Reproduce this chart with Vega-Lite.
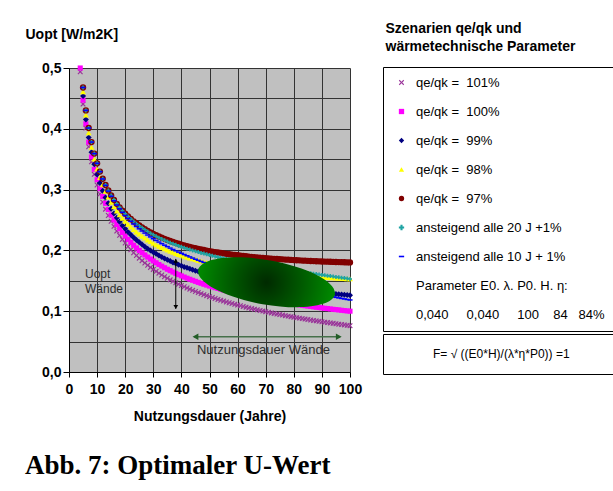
{
  "$schema": "https://vega.github.io/schema/vega-lite/v6.json",
  "width": 281,
  "height": 304,
  "autosize": {"type": "none"},
  "padding": {"left": 69, "top": 68, "right": 263, "bottom": 119},
  "background": "white",
  "title": {"text": "Abb. 7: Optimaler U-Wert", "orient": "bottom", "anchor": "start", "frame": "bounds", "font": "Liberation Serif", "fontSize": 27, "fontWeight": "bold", "color": "black", "offset": 30},
  "config": {
    "view": {"fill": "#c0c0c0", "stroke": null},
    "axis": {"labelFont": "Liberation Sans", "titleFont": "Liberation Sans"},
    "legend": {"labelFont": "Liberation Sans", "titleFont": "Liberation Sans"},
    "text": {"font": "Liberation Sans"}
  },
  "data": {"values": [
    {"n":4,"a":0.4938,"b":0.5,"c":null,"d":null,"e":null,"f":null,"g":null},
    {"n":5,"a":0.4406,"b":0.4472,"c":0.4540,"d":0.4609,"e":0.4679,"f":0.4679,"g":0.4679},
    {"n":6,"a":0.4012,"b":0.4082,"c":0.4155,"d":0.4228,"e":0.4303,"f":0.4303,"g":0.4303},
    {"n":7,"a":0.3705,"b":0.3780,"c":0.3856,"d":0.3934,"e":0.4013,"f":0.4013,"g":0.4013},
    {"n":8,"a":0.3457,"b":0.3536,"c":0.3616,"d":0.3698,"e":0.3782,"f":0.3782,"g":0.3782},
    {"n":9,"a":0.3251,"b":0.3333,"c":0.3418,"d":0.3504,"e":0.3592,"f":0.3592,"g":0.3592},
    {"n":10,"a":0.3076,"b":0.3162,"c":0.3250,"d":0.3340,"e":0.3432,"f":0.3432,"g":0.3432},
    {"n":11,"a":0.2926,"b":0.3015,"c":0.3107,"d":0.3200,"e":0.3296,"f":0.3296,"g":0.3295},
    {"n":12,"a":0.2794,"b":0.2887,"c":0.2982,"d":0.3079,"e":0.3178,"f":0.3178,"g":0.3175},
    {"n":13,"a":0.2678,"b":0.2774,"c":0.2872,"d":0.2972,"e":0.3076,"f":0.3076,"g":0.3069},
    {"n":14,"a":0.2574,"b":0.2673,"c":0.2774,"d":0.2878,"e":0.2985,"f":0.2985,"g":0.2975},
    {"n":15,"a":0.2480,"b":0.2582,"c":0.2687,"d":0.2794,"e":0.2904,"f":0.2904,"g":0.2891},
    {"n":16,"a":0.2395,"b":0.2500,"c":0.2608,"d":0.2718,"e":0.2832,"f":0.2832,"g":0.2816},
    {"n":17,"a":0.2318,"b":0.2425,"c":0.2536,"d":0.2650,"e":0.2766,"f":0.2766,"g":0.2747},
    {"n":18,"a":0.2247,"b":0.2357,"c":0.2471,"d":0.2587,"e":0.2707,"f":0.2707,"g":0.2684},
    {"n":19,"a":0.2181,"b":0.2294,"c":0.2411,"d":0.2530,"e":0.2653,"f":0.2653,"g":0.2626},
    {"n":20,"a":0.2121,"b":0.2236,"c":0.2355,"d":0.2478,"e":0.2604,"f":0.2604,"g":0.2573},
    {"n":21,"a":0.2064,"b":0.2182,"c":0.2304,"d":0.2430,"e":0.2558,"f":0.2558,"g":0.2524},
    {"n":22,"a":0.2011,"b":0.2132,"c":0.2257,"d":0.2385,"e":0.2517,"f":0.2515,"g":0.2478},
    {"n":23,"a":0.1962,"b":0.2085,"c":0.2212,"d":0.2343,"e":0.2478,"f":0.2476,"g":0.2435},
    {"n":24,"a":0.1916,"b":0.2041,"c":0.2171,"d":0.2305,"e":0.2442,"f":0.2438,"g":0.2394},
    {"n":25,"a":0.1872,"b":0.2000,"c":0.2132,"d":0.2269,"e":0.2409,"f":0.2403,"g":0.2355},
    {"n":26,"a":0.1831,"b":0.1961,"c":0.2096,"d":0.2235,"e":0.2378,"f":0.2371,"g":0.2319},
    {"n":27,"a":0.1792,"b":0.1925,"c":0.2062,"d":0.2203,"e":0.2349,"f":0.2340,"g":0.2285},
    {"n":28,"a":0.1755,"b":0.1890,"c":0.2029,"d":0.2173,"e":0.2322,"f":0.2311,"g":0.2253},
    {"n":29,"a":0.1720,"b":0.1857,"c":0.1999,"d":0.2145,"e":0.2296,"f":0.2283,"g":0.2222},
    {"n":30,"a":0.1687,"b":0.1826,"c":0.1970,"d":0.2119,"e":0.2272,"f":0.2257,"g":0.2192},
    {"n":31,"a":0.1655,"b":0.1796,"c":0.1943,"d":0.2094,"e":0.2250,"f":0.2233,"g":0.2164},
    {"n":32,"a":0.1625,"b":0.1768,"c":0.1916,"d":0.2070,"e":0.2229,"f":0.2209,"g":0.2137},
    {"n":33,"a":0.1596,"b":0.1741,"c":0.1892,"d":0.2048,"e":0.2209,"f":0.2187,"g":0.2111},
    {"n":34,"a":0.1568,"b":0.1715,"c":0.1868,"d":0.2027,"e":0.2190,"f":0.2166,"g":0.2086},
    {"n":35,"a":0.1542,"b":0.1690,"c":0.1846,"d":0.2006,"e":0.2172,"f":0.2146,"g":0.2062},
    {"n":36,"a":0.1516,"b":0.1667,"c":0.1824,"d":0.1987,"e":0.2155,"f":0.2127,"g":0.2038},
    {"n":37,"a":0.1492,"b":0.1644,"c":0.1803,"d":0.1969,"e":0.2139,"f":0.2108,"g":0.2015},
    {"n":38,"a":0.1468,"b":0.1622,"c":0.1784,"d":0.1951,"e":0.2124,"f":0.2091,"g":0.1994},
    {"n":39,"a":0.1445,"b":0.1601,"c":0.1765,"d":0.1935,"e":0.2109,"f":0.2074,"g":0.1972},
    {"n":40,"a":0.1423,"b":0.1581,"c":0.1747,"d":0.1919,"e":0.2096,"f":0.2058,"g":0.1952},
    {"n":41,"a":0.1402,"b":0.1562,"c":0.1729,"d":0.1904,"e":0.2082,"f":0.2043,"g":0.1932},
    {"n":42,"a":0.1381,"b":0.1543,"c":0.1713,"d":0.1889,"e":0.2070,"f":0.2028,"g":0.1912},
    {"n":43,"a":0.1362,"b":0.1525,"c":0.1697,"d":0.1875,"e":0.2058,"f":0.2013,"g":0.1893},
    {"n":44,"a":0.1343,"b":0.1508,"c":0.1681,"d":0.1862,"e":0.2047,"f":0.1999,"g":0.1874},
    {"n":45,"a":0.1324,"b":0.1491,"c":0.1666,"d":0.1849,"e":0.2036,"f":0.1985,"g":0.1855},
    {"n":46,"a":0.1306,"b":0.1474,"c":0.1652,"d":0.1836,"e":0.2026,"f":0.1972,"g":0.1837},
    {"n":47,"a":0.1289,"b":0.1459,"c":0.1638,"d":0.1825,"e":0.2016,"f":0.1959,"g":0.1819},
    {"n":48,"a":0.1272,"b":0.1443,"c":0.1625,"d":0.1813,"e":0.2006,"f":0.1947,"g":0.1801},
    {"n":49,"a":0.1255,"b":0.1429,"c":0.1612,"d":0.1802,"e":0.1997,"f":0.1935,"g":0.1784},
    {"n":50,"a":0.1239,"b":0.1414,"c":0.1599,"d":0.1792,"e":0.1989,"f":0.1923,"g":0.1767},
    {"n":51,"a":0.1224,"b":0.1400,"c":0.1587,"d":0.1781,"e":0.1981,"f":0.1911,"g":0.1751},
    {"n":52,"a":0.1209,"b":0.1387,"c":0.1575,"d":0.1772,"e":0.1973,"f":0.1900,"g":0.1735},
    {"n":53,"a":0.1194,"b":0.1374,"c":0.1564,"d":0.1762,"e":0.1965,"f":0.1889,"g":0.1719},
    {"n":54,"a":0.1180,"b":0.1361,"c":0.1553,"d":0.1753,"e":0.1958,"f":0.1879,"g":0.1703},
    {"n":55,"a":0.1166,"b":0.1348,"c":0.1542,"d":0.1744,"e":0.1951,"f":0.1869,"g":0.1688},
    {"n":56,"a":0.1152,"b":0.1336,"c":0.1532,"d":0.1736,"e":0.1944,"f":0.1859,"g":0.1672},
    {"n":57,"a":0.1139,"b":0.1325,"c":0.1522,"d":0.1728,"e":0.1938,"f":0.1849,"g":0.1658},
    {"n":58,"a":0.1126,"b":0.1313,"c":0.1512,"d":0.1720,"e":0.1931,"f":0.1839,"g":0.1643},
    {"n":59,"a":0.1113,"b":0.1302,"c":0.1503,"d":0.1712,"e":0.1925,"f":0.1830,"g":0.1629},
    {"n":60,"a":0.1101,"b":0.1291,"c":0.1494,"d":0.1705,"e":0.1920,"f":0.1821,"g":0.1614},
    {"n":61,"a":0.1089,"b":0.1280,"c":0.1485,"d":0.1697,"e":0.1914,"f":0.1812,"g":0.1600},
    {"n":62,"a":0.1077,"b":0.1270,"c":0.1476,"d":0.1690,"e":0.1909,"f":0.1803,"g":0.1587},
    {"n":63,"a":0.1066,"b":0.1260,"c":0.1467,"d":0.1684,"e":0.1904,"f":0.1795,"g":0.1573},
    {"n":64,"a":0.1054,"b":0.1250,"c":0.1459,"d":0.1677,"e":0.1899,"f":0.1786,"g":0.1560},
    {"n":65,"a":0.1043,"b":0.1240,"c":0.1451,"d":0.1671,"e":0.1894,"f":0.1778,"g":0.1547},
    {"n":66,"a":0.1033,"b":0.1231,"c":0.1443,"d":0.1665,"e":0.1890,"f":0.1770,"g":0.1534},
    {"n":67,"a":0.1022,"b":0.1222,"c":0.1436,"d":0.1659,"e":0.1885,"f":0.1761,"g":0.1521},
    {"n":68,"a":0.1012,"b":0.1213,"c":0.1428,"d":0.1653,"e":0.1881,"f":0.1753,"g":0.1509},
    {"n":69,"a":0.1002,"b":0.1204,"c":0.1421,"d":0.1647,"e":0.1877,"f":0.1745,"g":0.1496},
    {"n":70,"a":0.0992,"b":0.1195,"c":0.1414,"d":0.1642,"e":0.1873,"f":0.1738,"g":0.1484},
    {"n":71,"a":0.0982,"b":0.1187,"c":0.1407,"d":0.1637,"e":0.1869,"f":0.1730,"g":0.1472},
    {"n":72,"a":0.0972,"b":0.1179,"c":0.1400,"d":0.1632,"e":0.1866,"f":0.1722,"g":0.1460},
    {"n":73,"a":0.0963,"b":0.1170,"c":0.1394,"d":0.1627,"e":0.1862,"f":0.1715,"g":0.1449},
    {"n":74,"a":0.0954,"b":0.1162,"c":0.1388,"d":0.1622,"e":0.1859,"f":0.1707,"g":0.1437},
    {"n":75,"a":0.0945,"b":0.1155,"c":0.1381,"d":0.1617,"e":0.1856,"f":0.1700,"g":0.1426},
    {"n":76,"a":0.0936,"b":0.1147,"c":0.1375,"d":0.1613,"e":0.1853,"f":0.1693,"g":0.1415},
    {"n":77,"a":0.0927,"b":0.1140,"c":0.1369,"d":0.1608,"e":0.1849,"f":0.1685,"g":0.1404},
    {"n":78,"a":0.0919,"b":0.1132,"c":0.1363,"d":0.1604,"e":0.1847,"f":0.1678,"g":0.1393},
    {"n":79,"a":0.0910,"b":0.1125,"c":0.1358,"d":0.1600,"e":0.1844,"f":0.1671,"g":0.1382},
    {"n":80,"a":0.0902,"b":0.1118,"c":0.1352,"d":0.1596,"e":0.1841,"f":0.1665,"g":0.1372},
    {"n":81,"a":0.0894,"b":0.1111,"c":0.1347,"d":0.1592,"e":0.1838,"f":0.1658,"g":0.1361},
    {"n":82,"a":0.0886,"b":0.1104,"c":0.1341,"d":0.1588,"e":0.1836,"f":0.1651,"g":0.1351},
    {"n":83,"a":0.0878,"b":0.1098,"c":0.1336,"d":0.1584,"e":0.1833,"f":0.1644,"g":0.1341},
    {"n":84,"a":0.0870,"b":0.1091,"c":0.1331,"d":0.1581,"e":0.1831,"f":0.1637,"g":0.1331},
    {"n":85,"a":0.0863,"b":0.1085,"c":0.1326,"d":0.1577,"e":0.1829,"f":0.1630,"g":0.1321},
    {"n":86,"a":0.0855,"b":0.1078,"c":0.1321,"d":0.1574,"e":0.1826,"f":0.1624,"g":0.1311},
    {"n":87,"a":0.0848,"b":0.1072,"c":0.1316,"d":0.1570,"e":0.1824,"f":0.1617,"g":0.1301},
    {"n":88,"a":0.0841,"b":0.1066,"c":0.1312,"d":0.1567,"e":0.1822,"f":0.1610,"g":0.1292},
    {"n":89,"a":0.0834,"b":0.1060,"c":0.1307,"d":0.1564,"e":0.1820,"f":0.1603,"g":0.1282},
    {"n":90,"a":0.0827,"b":0.1054,"c":0.1303,"d":0.1561,"e":0.1818,"f":0.1597,"g":0.1273},
    {"n":91,"a":0.0820,"b":0.1048,"c":0.1298,"d":0.1558,"e":0.1816,"f":0.1590,"g":0.1264},
    {"n":92,"a":0.0813,"b":0.1043,"c":0.1294,"d":0.1555,"e":0.1815,"f":0.1583,"g":0.1254},
    {"n":93,"a":0.0806,"b":0.1037,"c":0.1290,"d":0.1552,"e":0.1813,"f":0.1577,"g":0.1245},
    {"n":94,"a":0.0800,"b":0.1031,"c":0.1286,"d":0.1549,"e":0.1811,"f":0.1570,"g":0.1236},
    {"n":95,"a":0.0793,"b":0.1026,"c":0.1281,"d":0.1547,"e":0.1809,"f":0.1563,"g":0.1228},
    {"n":96,"a":0.0787,"b":0.1021,"c":0.1277,"d":0.1544,"e":0.1808,"f":0.1557,"g":0.1219},
    {"n":97,"a":0.0781,"b":0.1015,"c":0.1274,"d":0.1541,"e":0.1806,"f":0.1550,"g":0.1210},
    {"n":98,"a":0.0774,"b":0.1010,"c":0.1270,"d":0.1539,"e":0.1805,"f":0.1544,"g":0.1202},
    {"n":99,"a":0.0768,"b":0.1005,"c":0.1266,"d":0.1536,"e":0.1803,"f":0.1537,"g":0.1193},
    {"n":100,"a":0.0762,"b":0.1000,"c":0.1262,"d":0.1534,"e":0.1802,"f":0.1530,"g":0.1185}
  ]},
  "layer": [
    {
      "layer": [
        {
          "transform": [{"fold": ["a"], "as": ["s", "u"]}],
          "mark": {"type": "point", "filled": true, "size": 30, "opacity": 1, "strokeWidth": 0},
          "encoding": {
            "x": {"field": "n", "type": "quantitative", "title": "Nutzungsdauer (Jahre)",
              "scale": {"domain": [0, 100], "nice": false},
              "axis": {"values": [0,10,20,30,40,50,60,70,80,90,100], "grid": true, "gridColor": "#333333", "gridWidth": 1, "gridOpacity": 1,
                "domainColor": "black", "tickColor": "black", "tickSize": 5, "labelFontSize": 14, "labelFontWeight": "bold", "labelColor": "black",
                "labelPadding": 5, "labelFlush": false, "labelOverlap": false, "titleFontSize": 14, "titleFontWeight": "bold", "titleColor": "black", "titlePadding": 13}},
            "y": {"field": "u", "type": "quantitative", "title": "Uopt [W/m2K]",
              "scale": {"domain": [0, 0.5], "nice": false},
              "axis": {"values": [0,0.05,0.1,0.15,0.2,0.25,0.3,0.35,0.4,0.45,0.5], "grid": true, "gridColor": "#333333", "gridWidth": 1, "gridOpacity": 1,
                "labelExpr": "round(datum.value*100) % 10 === 0 ? replace(format(datum.value, '.1f'), '.', ',') : ''",
                "tickOpacity": {"condition": {"test": "round(datum.value*100) % 10 === 0", "value": 1}, "value": 0},
                "domainColor": "black", "tickColor": "black", "tickSize": 6, "labelFontSize": 14, "labelFontWeight": "bold", "labelColor": "black",
                "labelPadding": 2, "labelFlush": false, "labelOverlap": false,
                "titleAngle": 0, "titleX": -44, "titleY": -30, "titleAlign": "left", "titleBaseline": "alphabetic",
                "titleFontSize": 14, "titleFontWeight": "bold", "titleColor": "black"}},
            "color": {"field": "s", "type": "nominal",
              "scale": {"domain": ["a","b","c","d","e","f","g","h","i"], "range": ["#993399","#ff00ff","#000080","#ffff00","#800000","#1fa3a3","#0000ff","transparent","transparent"]},
              "legend": {"orient": "none", "legendX": 314, "legendY": -1, "title": null,
                "strokeColor": "black", "fillColor": "white", "padding": 9,
                "rowPadding": 15, "symbolOffset": 3, "labelOffset": 8, "symbolSize": 28, "symbolStrokeWidth": 0, "labelFontSize": 13, "labelColor": "black", "labelLimit": 300,
                "labelExpr": "{'a':'qe/qk =\u00a0 101%','b':'qe/qk =\u00a0 100%','c':'qe/qk =\u00a0 99%','d':'qe/qk =\u00a0 98%','e':'qe/qk =\u00a0 97%','f':'ansteigend alle 20 J +1%','g':'ansteigend alle 10 J + 1%','h':'Parameter E0. λ. P0. H. η:','i':'0,040\u00a0\u00a0\u00a0\u00a0 0,040\u00a0\u00a0\u00a0\u00a0 100\u00a0\u00a0\u00a0 84\u00a0\u00a0 84%'}[datum.label]"}},
            "shape": {"field": "s", "type": "nominal",
              "scale": {"domain": ["a","b","c","d","e","f","g","h","i"], "range": ["M-1,-0.7L-0.7,-1L0,-0.3L0.7,-1L1,-0.7L0.3,0L1,0.7L0.7,1L0,0.3L-0.7,1L-1,0.7L-0.3,0Z","square","diamond","triangle-up","circle","cross","M-1,-0.3L1,-0.3L1,0.3L-1,0.3Z","circle","circle"]},
              "legend": {"orient": "none", "legendX": 314, "legendY": -1, "title": null,
                "strokeColor": "black", "fillColor": "white", "padding": 9,
                "rowPadding": 15, "symbolOffset": 3, "labelOffset": 8, "symbolSize": 28, "symbolStrokeWidth": 0, "labelFontSize": 13, "labelColor": "black", "labelLimit": 300,
                "labelExpr": "{'a':'qe/qk =\u00a0 101%','b':'qe/qk =\u00a0 100%','c':'qe/qk =\u00a0 99%','d':'qe/qk =\u00a0 98%','e':'qe/qk =\u00a0 97%','f':'ansteigend alle 20 J +1%','g':'ansteigend alle 10 J + 1%','h':'Parameter E0. λ. P0. H. η:','i':'0,040\u00a0\u00a0\u00a0\u00a0 0,040\u00a0\u00a0\u00a0\u00a0 100\u00a0\u00a0\u00a0 84\u00a0\u00a0 84%'}[datum.label]"}}
          }
        },
        {
          "transform": [{"fold": ["b"], "as": ["s", "u"]}],
          "mark": {"type": "point", "filled": true, "size": 26, "opacity": 1, "strokeWidth": 0},
          "encoding": {"x": {"field": "n", "type": "quantitative", "title": "Nutzungsdauer (Jahre)", "axis": {"values": [0,10,20,30,40,50,60,70,80,90,100]}}, "y": {"field": "u", "type": "quantitative", "title": "Uopt [W/m2K]", "axis": {"values": [0,0.05,0.1,0.15,0.2,0.25,0.3,0.35,0.4,0.45,0.5]}}, "color": {"field": "s", "type": "nominal"}, "shape": {"field": "s", "type": "nominal"}}
        },
        {
          "transform": [{"fold": ["c"], "as": ["s", "u"]}],
          "mark": {"type": "point", "filled": true, "size": 36, "opacity": 1, "strokeWidth": 0},
          "encoding": {"x": {"field": "n", "type": "quantitative", "title": "Nutzungsdauer (Jahre)", "axis": {"values": [0,10,20,30,40,50,60,70,80,90,100]}}, "y": {"field": "u", "type": "quantitative", "title": "Uopt [W/m2K]", "axis": {"values": [0,0.05,0.1,0.15,0.2,0.25,0.3,0.35,0.4,0.45,0.5]}}, "color": {"field": "s", "type": "nominal"}, "shape": {"field": "s", "type": "nominal"}}
        },
        {
          "transform": [{"fold": ["d"], "as": ["s", "u"]}],
          "mark": {"type": "point", "filled": true, "size": 34, "opacity": 1, "strokeWidth": 0},
          "encoding": {"x": {"field": "n", "type": "quantitative", "title": "Nutzungsdauer (Jahre)", "axis": {"values": [0,10,20,30,40,50,60,70,80,90,100]}}, "y": {"field": "u", "type": "quantitative", "title": "Uopt [W/m2K]", "axis": {"values": [0,0.05,0.1,0.15,0.2,0.25,0.3,0.35,0.4,0.45,0.5]}}, "color": {"field": "s", "type": "nominal"}, "shape": {"field": "s", "type": "nominal"}}
        },
        {
          "transform": [{"fold": ["e"], "as": ["s", "u"]}],
          "mark": {"type": "point", "filled": true, "size": 40, "opacity": 1, "strokeWidth": 0},
          "encoding": {"x": {"field": "n", "type": "quantitative", "title": "Nutzungsdauer (Jahre)", "axis": {"values": [0,10,20,30,40,50,60,70,80,90,100]}}, "y": {"field": "u", "type": "quantitative", "title": "Uopt [W/m2K]", "axis": {"values": [0,0.05,0.1,0.15,0.2,0.25,0.3,0.35,0.4,0.45,0.5]}}, "color": {"field": "s", "type": "nominal"}, "shape": {"field": "s", "type": "nominal"}}
        },
        {
          "transform": [{"fold": ["f"], "as": ["s", "u"]}],
          "mark": {"type": "point", "filled": true, "size": 16, "opacity": 1, "strokeWidth": 0},
          "encoding": {"x": {"field": "n", "type": "quantitative", "title": "Nutzungsdauer (Jahre)", "axis": {"values": [0,10,20,30,40,50,60,70,80,90,100]}}, "y": {"field": "u", "type": "quantitative", "title": "Uopt [W/m2K]", "axis": {"values": [0,0.05,0.1,0.15,0.2,0.25,0.3,0.35,0.4,0.45,0.5]}}, "color": {"field": "s", "type": "nominal"}, "shape": {"field": "s", "type": "nominal"}}
        },
        {
          "transform": [{"fold": ["g"], "as": ["s", "u"]}],
          "mark": {"type": "point", "filled": true, "size": 26, "opacity": 1, "strokeWidth": 0},
          "encoding": {"x": {"field": "n", "type": "quantitative", "title": "Nutzungsdauer (Jahre)", "axis": {"values": [0,10,20,30,40,50,60,70,80,90,100]}}, "y": {"field": "u", "type": "quantitative", "title": "Uopt [W/m2K]", "axis": {"values": [0,0.05,0.1,0.15,0.2,0.25,0.3,0.35,0.4,0.45,0.5]}}, "color": {"field": "s", "type": "nominal"}, "shape": {"field": "s", "type": "nominal"}}
        },
        {
          "data": {"values": [{}]},
          "mark": {"type": "point", "filled": true, "opacity": 1, "strokeWidth": 0, "size": 19265,
            "shape": "M0.9848,0.1736C0.9541,0.3477,0.4883,0.411,-0.0556,0.3151C-0.5995,0.2192,-1.0155,0.0005,-0.9848,-0.1736C-0.9541,-0.3477,-0.4883,-0.411,0.0556,-0.3151C0.5995,-0.2192,1.0155,-0.0005,0.9848,0.1736Z",
            "fill": {"gradient": "radial", "x1": 0.5, "y1": 0.5, "r1": 0, "x2": 0.5, "y2": 0.5, "r2": 0.5,
              "stops": [{"offset": 0, "color": "#002a00"}, {"offset": 0.5, "color": "#005800"}, {"offset": 1, "color": "#008a00"}]}},
          "encoding": {"x": {"datum": 70.3, "type": "quantitative", "title": "Nutzungsdauer (Jahre)", "axis": {"values": [0,10,20,30,40,50,60,70,80,90,100]}}, "y": {"datum": 0.1475, "type": "quantitative", "title": "Uopt [W/m2K]", "axis": {"values": [0,0.05,0.1,0.15,0.2,0.25,0.3,0.35,0.4,0.45,0.5]}}}
        },
        {
          "data": {"values": [{}]},
          "mark": {"type": "rule", "color": "black", "strokeWidth": 1},
          "encoding": {"x": {"datum": 38, "type": "quantitative", "title": "Nutzungsdauer (Jahre)", "axis": {"values": [0,10,20,30,40,50,60,70,80,90,100]}}, "y": {"datum": 0.104, "type": "quantitative", "title": "Uopt [W/m2K]", "axis": {"values": [0,0.05,0.1,0.15,0.2,0.25,0.3,0.35,0.4,0.45,0.5]}}, "y2": {"datum": 0.186}}
        },
        {
          "data": {"values": [{}]},
          "mark": {"type": "point", "shape": "triangle-up", "filled": true, "color": "black", "size": 22, "opacity": 1},
          "encoding": {"x": {"datum": 38, "type": "quantitative", "title": "Nutzungsdauer (Jahre)", "axis": {"values": [0,10,20,30,40,50,60,70,80,90,100]}}, "y": {"datum": 0.183, "type": "quantitative", "title": "Uopt [W/m2K]", "axis": {"values": [0,0.05,0.1,0.15,0.2,0.25,0.3,0.35,0.4,0.45,0.5]}}}
        },
        {
          "data": {"values": [{}]},
          "mark": {"type": "point", "shape": "triangle-down", "filled": true, "color": "black", "size": 22, "opacity": 1},
          "encoding": {"x": {"datum": 38, "type": "quantitative", "title": "Nutzungsdauer (Jahre)", "axis": {"values": [0,10,20,30,40,50,60,70,80,90,100]}}, "y": {"datum": 0.107, "type": "quantitative", "title": "Uopt [W/m2K]", "axis": {"values": [0,0.05,0.1,0.15,0.2,0.25,0.3,0.35,0.4,0.45,0.5]}}}
        },
        {
          "data": {"values": [{}]},
          "mark": {"type": "rule", "color": "#46704a", "strokeWidth": 1.5},
          "encoding": {"x": {"datum": 44.5, "type": "quantitative", "title": "Nutzungsdauer (Jahre)", "axis": {"values": [0,10,20,30,40,50,60,70,80,90,100]}}, "x2": {"datum": 96.5}, "y": {"datum": 0.058, "type": "quantitative", "title": "Uopt [W/m2K]", "axis": {"values": [0,0.05,0.1,0.15,0.2,0.25,0.3,0.35,0.4,0.45,0.5]}}}
        },
        {
          "data": {"values": [{}]},
          "mark": {"type": "point", "shape": "triangle-left", "filled": true, "color": "#235e27", "size": 45, "opacity": 1},
          "encoding": {"x": {"datum": 45, "type": "quantitative", "title": "Nutzungsdauer (Jahre)", "axis": {"values": [0,10,20,30,40,50,60,70,80,90,100]}}, "y": {"datum": 0.058, "type": "quantitative", "title": "Uopt [W/m2K]", "axis": {"values": [0,0.05,0.1,0.15,0.2,0.25,0.3,0.35,0.4,0.45,0.5]}}}
        },
        {
          "data": {"values": [{}]},
          "mark": {"type": "point", "shape": "triangle-right", "filled": true, "color": "#235e27", "size": 45, "opacity": 1},
          "encoding": {"x": {"datum": 96, "type": "quantitative", "title": "Nutzungsdauer (Jahre)", "axis": {"values": [0,10,20,30,40,50,60,70,80,90,100]}}, "y": {"datum": 0.058, "type": "quantitative", "title": "Uopt [W/m2K]", "axis": {"values": [0,0.05,0.1,0.15,0.2,0.25,0.3,0.35,0.4,0.45,0.5]}}}
        },
        {
          "data": {"values": [{}]},
          "mark": {"type": "text", "text": "Nutzungsdauer Wände", "fontSize": 13, "color": "#2e2e2e", "align": "center", "baseline": "middle"},
          "encoding": {"x": {"datum": 69.2, "type": "quantitative", "title": "Nutzungsdauer (Jahre)", "axis": {"values": [0,10,20,30,40,50,60,70,80,90,100]}}, "y": {"datum": 0.036, "type": "quantitative", "title": "Uopt [W/m2K]", "axis": {"values": [0,0.05,0.1,0.15,0.2,0.25,0.3,0.35,0.4,0.45,0.5]}}}
        },
        {
          "data": {"values": [{}]},
          "mark": {"type": "text", "text": ["Uopt", "Wände"], "fontSize": 12, "lineHeight": 15, "color": "#2e2e2e", "align": "left", "baseline": "top"},
          "encoding": {"x": {"datum": 5.7, "type": "quantitative", "title": "Nutzungsdauer (Jahre)", "axis": {"values": [0,10,20,30,40,50,60,70,80,90,100]}}, "y": {"datum": 0.169, "type": "quantitative", "title": "Uopt [W/m2K]", "axis": {"values": [0,0.05,0.1,0.15,0.2,0.25,0.3,0.35,0.4,0.45,0.5]}}}
        }
      ]
    },
    {
      "data": {"values": [{"f": "F= √ ((E0*H)/(λ*η*P0)) =1"}]},
      "mark": {"type": "point", "filled": true, "size": 16},
      "encoding": {
        "x": {"datum": 50, "type": "quantitative", "title": "Nutzungsdauer (Jahre)", "axis": {"values": [0,10,20,30,40,50,60,70,80,90,100]}},
        "y": {"datum": 0.25, "type": "quantitative",
          "axis": {"orient": "right", "title": ["Szenarien qe/qk und", "wärmetechnische Parameter"], "labels": false, "ticks": false, "domain": false, "grid": false,
            "titleAngle": 0, "titleX": 35, "titleY": -36, "titleAlign": "left", "titleBaseline": "alphabetic",
            "titleFontSize": 14, "titleFontWeight": "bold", "titleColor": "black", "titleLineHeight": 18}},
        "fill": {"field": "f", "type": "nominal", "scale": {"range": ["transparent"]},
          "legend": {"orient": "none", "legendX": 314, "legendY": 266, "title": null,
            "strokeColor": "black", "fillColor": "white", "padding": 14,
            "symbolType": "circle", "symbolSize": 16, "labelOffset": 24, "labelFontSize": 12, "labelColor": "black", "labelLimit": 400,
            "labelExpr": "datum.label + '\u00a0\u00a0\u00a0\u00a0\u00a0\u00a0\u00a0\u00a0\u00a0\u00a0\u2800'"}}
      }
    }
  ],
  "resolve": {"axis": {"y": "independent"}}
}
